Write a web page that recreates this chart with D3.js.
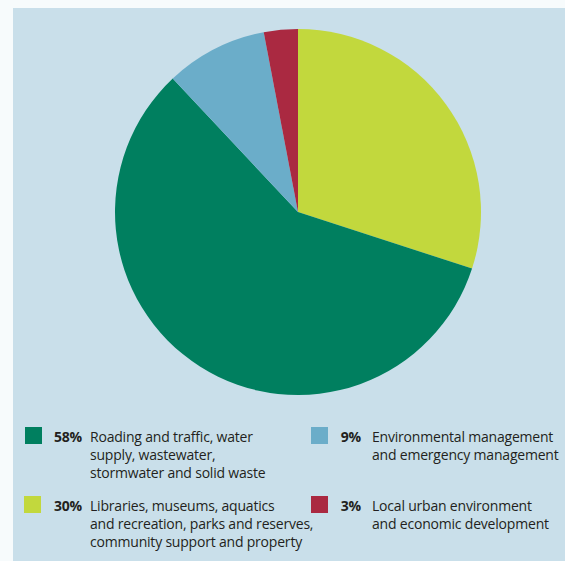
<!DOCTYPE html>
<html>
<head>
<meta charset="utf-8">
<script src="https://cdn.jsdelivr.net/npm/d3@7"></script>
<style>
  html, body { margin: 0; padding: 0; background: #f7fbfc; }
  svg { display: block; }
  text { font-family: "Open Sans", "Noto Sans", sans-serif; fill: #231f20; }
</style>
</head>
<body>
<svg id="chart" width="565" height="561"></svg>
<script>
// Share of spending by activity group (percent), drawn clockwise from 12 o'clock
const categories = [
  ["Libraries, museums, aquatics", "and recreation, parks and reserves,", "community support and property"],
  ["Roading and traffic, water", "supply, wastewater,", "stormwater and solid waste"],
  ["Environmental management", "and emergency management"],
  ["Local urban environment", "and economic development"]
];
const shares = [30, 58, 9, 3];
const colors = ["#c2d83d", "#007f5f", "#6badc9", "#aa2941"];
// Legend order: left column then right column
const legendOrder = [1, 0, 2, 3];

const svg = d3.select("#chart");

// Panel background
svg.append("rect")
  .attr("x", 13).attr("y", 8)
  .attr("width", 552).attr("height", 553)
  .attr("fill", "#c9dfea");

const cx = 298, cy = 212, radius = 183;

const pie = d3.pie().sort(null).value(d => d)(shares);
const arc = d3.arc().innerRadius(0).outerRadius(radius);

svg.append("g")
  .attr("transform", `translate(${cx},${cy})`)
  .selectAll("path")
  .data(pie)
  .join("path")
  .attr("d", arc)
  .attr("fill", (d, i) => colors[i]);

// Legend
const slots = [
  { x: 25, y: 427 },
  { x: 24, y: 496 },
  { x: 311, y: 427 },
  { x: 311, y: 496 }
];
const pctRight = [82, 82, 361, 361];
const textX = [90, 90, 372, 372];

legendOrder.forEach((idx, k) => {
  const s = slots[k];
  const g = svg.append("g");
  g.append("rect")
    .attr("x", s.x).attr("y", s.y)
    .attr("width", 17).attr("height", 17)
    .attr("fill", colors[idx]);
  g.append("text")
    .attr("x", pctRight[k]).attr("y", s.y + 15)
    .attr("text-anchor", "end")
    .attr("font-size", 14).attr("font-weight", 700)
    .attr("letter-spacing", -0.2)
    .text(shares[idx] + "%");
  categories[idx].forEach((line, j) => {
    g.append("text")
      .attr("x", textX[k]).attr("y", s.y + 15 + j * 18)
      .attr("font-size", 14)
      .attr("letter-spacing", -0.2)
      .text(line);
  });
});
</script>
</body>
</html>
